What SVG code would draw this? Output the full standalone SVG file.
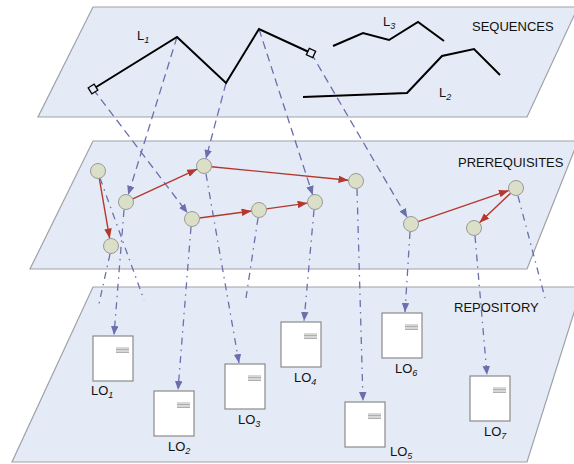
<svg xmlns="http://www.w3.org/2000/svg" width="574" height="464" viewBox="0 0 574 464">
<defs>
<style>
.plane{fill:#e5ebf6;stroke:#9fa1a8;stroke-width:1.2}
.seq{fill:none;stroke:#000;stroke-width:2;stroke-linejoin:miter}
.mk{fill:#e5ebf6;stroke:#000;stroke-width:1.3}
.dash{fill:none;stroke:#6b6fae;stroke-width:1.3;stroke-dasharray:8 5}
.dd{fill:none;stroke:#6b6fae;stroke-width:1.3;stroke-dasharray:7 5 1.5 5}
.red{fill:none;stroke:#b5382e;stroke-width:1.4}
.node{fill:#dcdfc7;stroke:#9a9a94;stroke-width:1}
.lo{fill:#fff;stroke:#8a8a8a;stroke-width:1.2}
.ln{stroke:#9a9a9a;stroke-width:0.8}
text{font-family:"Liberation Sans",Arial,sans-serif;font-size:13px;fill:#111}
.sub{font-size:9px;font-style:italic}
</style>
<marker id="ab" markerUnits="userSpaceOnUse" markerWidth="10" markerHeight="8" refX="9" refY="3.75" orient="auto"><path d="M0,0 L9,3.75 L0,7.5 z" fill="#6b6fae"/></marker>
<marker id="ar" markerUnits="userSpaceOnUse" markerWidth="11" markerHeight="8" refX="10" refY="3.75" orient="auto"><path d="M0,0 L10,3.75 L0,7.5 z" fill="#b5382e"/></marker>
<g id="lodoc"><rect class="lo" x="0" y="0" width="40" height="45"/><path class="ln" d="M23,12H36M23,13.5H36M23,15H36M23,16.5H36"/></g>
</defs>
<g id="planes">
<polygon class="plane" points="93,7 578,7 527,117 38,117"/>
<polygon class="plane" points="93,141 578,141 527,269 30,269"/>
<polygon class="plane" points="93,287 582,287 527,462 12,462"/>
<text x="472" y="31">SEQUENCES</text>
<text x="458" y="167">PREREQUISITES</text>
<text x="454" y="312">REPOSITORY</text>
</g>
<g id="connectors">
<line class="dash" x1="93" y1="89" x2="187.5" y2="213" marker-end="url(#ab)"/>
<line class="dash" x1="177" y1="37" x2="128.2" y2="194.8" marker-end="url(#ab)"/>
<line class="dash" x1="226" y1="83" x2="205.9" y2="158.8" marker-end="url(#ab)"/>
<line class="dash" x1="259" y1="29" x2="312.7" y2="194.9" marker-end="url(#ab)"/>
<line class="dash" x1="311" y1="53" x2="407.2" y2="217.5" marker-end="url(#ab)"/>
<line class="red" x1="99.3" y1="178.4" x2="109.7" y2="238.6" marker-end="url(#ar)"/>
<line class="red" x1="132.8" y1="198.9" x2="197.2" y2="169.1" marker-end="url(#ar)"/>
<line class="red" x1="211.5" y1="166.7" x2="348.5" y2="180.3" marker-end="url(#ar)"/>
<line class="red" x1="199.4" y1="218" x2="251.6" y2="211" marker-end="url(#ar)"/>
<line class="red" x1="266.4" y1="208.9" x2="307.6" y2="203.1" marker-end="url(#ar)"/>
<line class="red" x1="418.1" y1="221.6" x2="508.9" y2="190.4" marker-end="url(#ar)"/>
<line class="red" x1="510.6" y1="193.2" x2="479.4" y2="222.8" marker-end="url(#ar)"/>
<line class="dd" x1="124" y1="210" x2="114" y2="335" marker-end="url(#ab)"/>
<line class="dd" x1="191" y1="227" x2="178" y2="390" marker-end="url(#ab)"/>
<line class="dd" x1="206" y1="174" x2="239" y2="363" marker-end="url(#ab)"/>
<line class="dd" x1="314" y1="210" x2="304" y2="321" marker-end="url(#ab)"/>
<line class="dd" x1="357" y1="189" x2="363" y2="401" marker-end="url(#ab)"/>
<line class="dd" x1="410" y1="232" x2="405" y2="312" marker-end="url(#ab)"/>
<line class="dd" x1="475" y1="236" x2="487" y2="375" marker-end="url(#ab)"/>
<line class="dd" x1="100" y1="178" x2="144" y2="300"/>
<line class="dd" x1="110" y1="254" x2="98" y2="308"/>
<line class="dd" x1="258" y1="218" x2="246" y2="298"/>
<line class="dd" x1="518" y1="196" x2="545" y2="298"/>
</g>
<g id="L1">
<polyline class="seq" points="93,89 177,37 226,83 259,29 311,53"/>
<rect class="mk" x="-3.5" y="-3.5" width="7" height="7" transform="translate(93,89) rotate(-32)"/>
<rect class="mk" x="-3.5" y="-3.5" width="7" height="7" transform="translate(311,53) rotate(25)"/>
<text x="137" y="40">L<tspan class="sub" dy="3">1</tspan></text>
</g>
<g id="L3">
<polyline class="seq" points="333,46 363,33 389,40 418,22 444,41"/>
<text x="383" y="26">L<tspan class="sub" dy="3">3</tspan></text>
</g>
<g id="L2">
<polyline class="seq" points="303,97 407,93 442,56 474,49 500,75"/>
<text x="439" y="97">L<tspan class="sub" dy="3">2</tspan></text>
</g>
<g id="nA"><circle class="node" cx="98" cy="171" r="7.5"/></g>
<g id="nB"><circle class="node" cx="126" cy="202" r="7.5"/></g>
<g id="nC"><circle class="node" cx="111" cy="246" r="7.5"/></g>
<g id="nD"><circle class="node" cx="204" cy="166" r="7.5"/></g>
<g id="nE"><circle class="node" cx="192" cy="219" r="7.5"/></g>
<g id="nF"><circle class="node" cx="259" cy="210" r="7.5"/></g>
<g id="nG"><circle class="node" cx="356" cy="181" r="7.5"/></g>
<g id="nH"><circle class="node" cx="315" cy="202" r="7.5"/></g>
<g id="nI"><circle class="node" cx="411" cy="224" r="7.5"/></g>
<g id="nJ"><circle class="node" cx="474" cy="228" r="7.5"/></g>
<g id="nK"><circle class="node" cx="516" cy="188" r="7.5"/></g>
<g id="LO1"><use href="#lodoc" x="93" y="336"/><text x="91" y="395">LO<tspan class="sub" dy="3">1</tspan></text></g>
<g id="LO2"><use href="#lodoc" x="154" y="391"/><text x="168" y="451">LO<tspan class="sub" dy="3">2</tspan></text></g>
<g id="LO3"><use href="#lodoc" x="225" y="364"/><text x="238" y="424">LO<tspan class="sub" dy="3">3</tspan></text></g>
<g id="LO4"><use href="#lodoc" x="281" y="322"/><text x="294" y="382">LO<tspan class="sub" dy="3">4</tspan></text></g>
<g id="LO5"><use href="#lodoc" x="345" y="402"/><text x="390" y="456">LO<tspan class="sub" dy="3">5</tspan></text></g>
<g id="LO6"><use href="#lodoc" x="382" y="313"/><text x="395" y="373">LO<tspan class="sub" dy="3">6</tspan></text></g>
<g id="LO7"><use href="#lodoc" x="470" y="376"/><text x="484" y="436">LO<tspan class="sub" dy="3">7</tspan></text></g>
</svg>
